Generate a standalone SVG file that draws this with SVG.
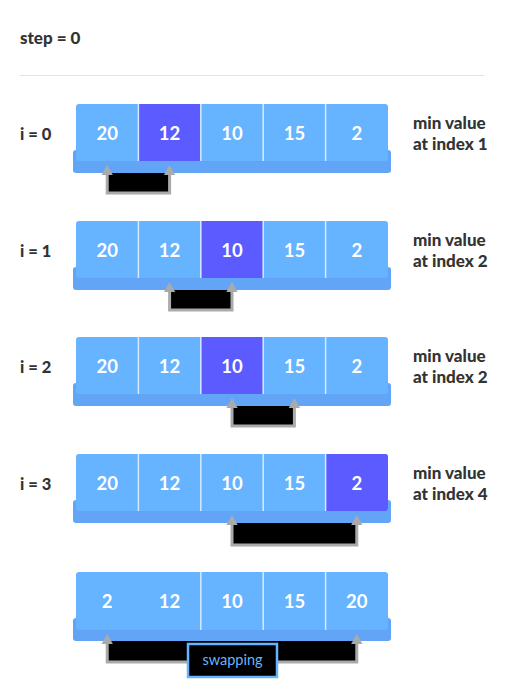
<svg xmlns="http://www.w3.org/2000/svg" width="526" height="697" viewBox="0 0 526 697">
<style>
.t{font-family:Lato,"Liberation Sans",sans-serif;font-weight:900;fill:#333;}
.lbl{font-size:16.5px;}
.mv{font-size:17px;}
.cell{fill:#66b3ff;}
.hi{fill:#5b5bff;}
.sh{fill:#62a5f6;}
.div{stroke:#d6ebff;stroke-width:1.5;}
.num{font-family:Lato,"Liberation Sans",sans-serif;font-weight:bold;font-size:18.5px;fill:#fff;text-anchor:middle;}
.br{fill:#000;stroke:#aaa;stroke-width:3;}
.ah{fill:#aaa;}
</style>
<rect width="526" height="697" fill="#fff"/>
<text class="t" x="20" y="44" font-size="17">step = 0</text>
<line x1="20" y1="75.5" x2="484" y2="75.5" stroke="#e3e3e3" stroke-width="1.2"/>

<!-- brackets (drawn behind arrays) -->
<g id="connectors">
  <path class="br" d="M107.2 173 V193 H169.6 V173"/>
  <path class="br" d="M169.6 290 V310 H232 V290"/>
  <path class="br" d="M232 406 V426 H294.4 V406"/>
  <path class="br" d="M232 523 V545 H356.8 V523"/>
  <path class="br" d="M107.2 641 V662 H356.8 V641"/>
</g>

<!-- row 0 -->
<g id="row0">
  <text class="t lbl" x="20" y="140">i = 0</text>
  <rect class="sh" x="73" y="150" width="318" height="23" rx="3"/>
  <rect class="cell" x="76" y="104" width="312" height="57" rx="3"/>
  <rect class="hi" x="138.4" y="104" width="62.4" height="57"/>
  <g class="div"><line x1="138.4" y1="104" x2="138.4" y2="161"/><line x1="200.8" y1="104" x2="200.8" y2="161"/><line x1="263.2" y1="104" x2="263.2" y2="161"/><line x1="325.6" y1="104" x2="325.6" y2="161"/></g>
  <text class="num" x="107.2" y="140">20</text><text class="num" x="169.6" y="140">12</text><text class="num" x="232" y="140">10</text><text class="num" x="294.4" y="140">15</text><text class="num" x="356.8" y="140">2</text>
  <text class="t mv" x="413" y="129">min value</text>
  <text class="t mv" x="413" y="150">at index 1</text>
</g>

<!-- row 1 -->
<g id="row1">
  <text class="t lbl" x="20" y="257">i = 1</text>
  <rect class="sh" x="73" y="267" width="318" height="23" rx="3"/>
  <rect class="cell" x="76" y="221" width="312" height="57" rx="3"/>
  <rect class="hi" x="200.8" y="221" width="62.4" height="57"/>
  <g class="div"><line x1="138.4" y1="221" x2="138.4" y2="278"/><line x1="200.8" y1="221" x2="200.8" y2="278"/><line x1="263.2" y1="221" x2="263.2" y2="278"/><line x1="325.6" y1="221" x2="325.6" y2="278"/></g>
  <text class="num" x="107.2" y="257">20</text><text class="num" x="169.6" y="257">12</text><text class="num" x="232" y="257">10</text><text class="num" x="294.4" y="257">15</text><text class="num" x="356.8" y="257">2</text>
  <text class="t mv" x="413" y="246">min value</text>
  <text class="t mv" x="413" y="267">at index 2</text>
</g>

<!-- row 2 -->
<g id="row2">
  <text class="t lbl" x="20" y="373">i = 2</text>
  <rect class="sh" x="73" y="383" width="318" height="23" rx="3"/>
  <rect class="cell" x="76" y="337" width="312" height="57" rx="3"/>
  <rect class="hi" x="200.8" y="337" width="62.4" height="57"/>
  <g class="div"><line x1="138.4" y1="337" x2="138.4" y2="394"/><line x1="200.8" y1="337" x2="200.8" y2="394"/><line x1="263.2" y1="337" x2="263.2" y2="394"/><line x1="325.6" y1="337" x2="325.6" y2="394"/></g>
  <text class="num" x="107.2" y="373">20</text><text class="num" x="169.6" y="373">12</text><text class="num" x="232" y="373">10</text><text class="num" x="294.4" y="373">15</text><text class="num" x="356.8" y="373">2</text>
  <text class="t mv" x="413" y="362">min value</text>
  <text class="t mv" x="413" y="383">at index 2</text>
</g>

<!-- row 3 -->
<g id="row3">
  <text class="t lbl" x="20" y="490">i = 3</text>
  <rect class="sh" x="73" y="500" width="318" height="23" rx="3"/>
  <rect class="cell" x="76" y="454" width="312" height="57" rx="3"/>
  <rect class="hi" x="325.6" y="454" width="62.4" height="57" rx="3"/>
  <rect class="hi" x="325.6" y="454" width="20" height="57"/>
  <g class="div"><line x1="138.4" y1="454" x2="138.4" y2="511"/><line x1="200.8" y1="454" x2="200.8" y2="511"/><line x1="263.2" y1="454" x2="263.2" y2="511"/><line x1="325.6" y1="454" x2="325.6" y2="511"/></g>
  <text class="num" x="107.2" y="490">20</text><text class="num" x="169.6" y="490">12</text><text class="num" x="232" y="490">10</text><text class="num" x="294.4" y="490">15</text><text class="num" x="356.8" y="490">2</text>
  <text class="t mv" x="413" y="479">min value</text>
  <text class="t mv" x="413" y="500">at index 4</text>
</g>

<!-- row 4 (after swap) -->
<g id="row4">
  <rect class="sh" x="73" y="618" width="318" height="23" rx="3"/>
  <rect class="cell" x="76" y="572" width="312" height="58" rx="3"/>
  <g class="div"><line x1="200.8" y1="572" x2="200.8" y2="630"/><line x1="263.2" y1="572" x2="263.2" y2="630"/><line x1="325.6" y1="572" x2="325.6" y2="630"/></g>
  <text class="num" x="107.2" y="608">2</text><text class="num" x="169.6" y="608">12</text><text class="num" x="232" y="608">10</text><text class="num" x="294.4" y="608">15</text><text class="num" x="356.8" y="608">20</text>
</g>

<!-- arrowheads -->
<g id="arrowheads">
  <polygon class="ah" points="107.2,165 101.5,175 112.9,175"/><polygon class="ah" points="169.6,165 163.9,175 175.3,175"/>
  <polygon class="ah" points="169.6,282 163.9,292 175.3,292"/><polygon class="ah" points="232,282 226.3,292 237.7,292"/>
  <polygon class="ah" points="232,398 226.3,408 237.7,408"/><polygon class="ah" points="294.4,398 288.7,408 300.1,408"/>
  <polygon class="ah" points="232,515 226.3,525 237.7,525"/><polygon class="ah" points="356.8,515 351.1,525 362.5,525"/>
  <polygon class="ah" points="107.2,634 101.5,644 112.9,644"/><polygon class="ah" points="356.8,634 351.1,644 362.5,644"/>
</g>

<g id="swapping">
  <rect x="188" y="644" width="89" height="33" fill="#000" stroke="#66b3ff" stroke-width="2.5"/>
  <text x="232.5" y="665" text-anchor="middle" font-family="Lato,'Liberation Sans',sans-serif" font-size="14.5" fill="#66b3ff">swapping</text>
</g>
</svg>
